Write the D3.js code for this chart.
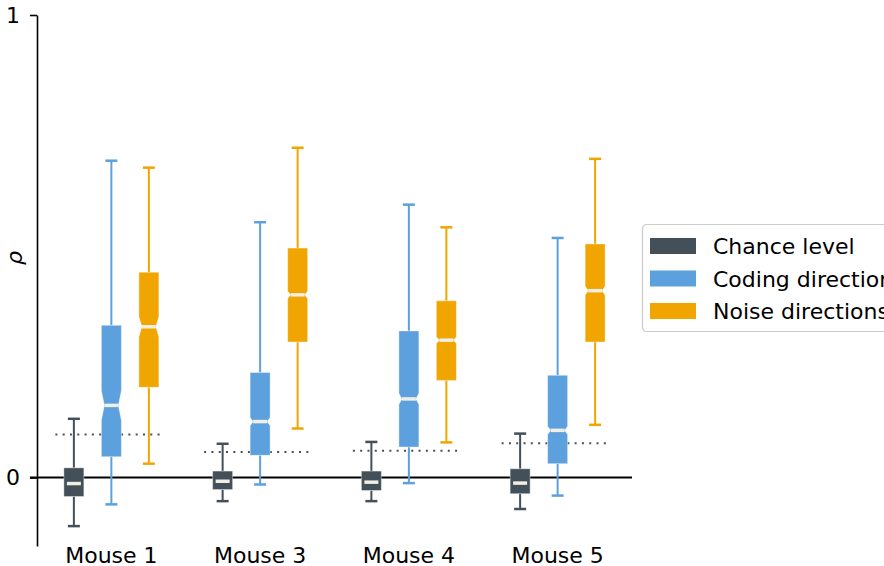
<!DOCTYPE html>
<html>
<head>
<meta charset="utf-8">
<script src="https://cdn.jsdelivr.net/npm/d3@7"></script>
<style>
    html, body { margin: 0; padding: 0; background: #fff; }
    svg { display: block; font-family: 'DejaVu Sans', sans-serif; }
</style>
</head>
<body>
<svg id="chart" width="884" height="566"></svg>
<script>
// categories and series
var mice = ['Mouse 1', 'Mouse 3', 'Mouse 4', 'Mouse 5'];
var seriesNames = ['Chance level', 'Coding direction', 'Noise directions'];
var seriesColors = ['#434f59', '#5ca0dd', '#f0a500'];

// box stats per mouse: [whisker low, q1, median, q3, whisker high]
var chanceStats = [
    [-0.105, -0.041, -0.013, 0.021, 0.127],
    [-0.051, -0.026, -0.008, 0.014, 0.073],
    [-0.051, -0.028, -0.010, 0.014, 0.077],
    [-0.068, -0.035, -0.012, 0.019, 0.095]
];
var codingStats = [
    [-0.058, 0.045, 0.156, 0.329, 0.685],
    [-0.015, 0.048, 0.121, 0.227, 0.552],
    [-0.012, 0.066, 0.170, 0.317, 0.590],
    [-0.039, 0.030, 0.102, 0.221, 0.518]
];
var noiseStats = [
    [0.030, 0.195, 0.326, 0.444, 0.670],
    [0.106, 0.293, 0.395, 0.496, 0.713],
    [0.076, 0.210, 0.297, 0.382, 0.541],
    [0.114, 0.293, 0.404, 0.505, 0.689]
];
// notch half heights (confidence interval of median)
var chanceNotch = [0, 0, 0, 0];
var codingNotch = [0.032, 0.009, 0.012, 0.009];
var noiseNotch = [0.022, 0.008, 0.007, 0.010];
// dotted threshold per mouse
var thresholds = [0.093, 0.055, 0.058, 0.074];
var yTicks = [0, 1];

var allStats = [chanceStats, codingStats, noiseStats];
var allNotch = [chanceNotch, codingNotch, noiseNotch];

var svg = d3.select('#chart');

var y = d3.scaleLinear()
    .domain([-0.148, 1])
    .range([546, 15]);

var x = d3.scaleBand()
    .domain(mice)
    .range([37, 632]);

var xs = d3.scaleBand()
    .domain(seriesNames)
    .range([-56.25, 56.25]);

var boxW = 20;
var indent = 3;

// zero line
svg.append('line')
    .attr('x1', 30)
    .attr('x2', 632)
    .attr('y1', y(0))
    .attr('y2', y(0))
    .attr('stroke', '#000')
    .attr('stroke-width', 2);

// y axis
var yAxis = svg.append('g')
    .attr('transform', 'translate(37,0)')
    .call(d3.axisLeft(y).tickValues(yTicks).tickSize(7).tickSizeOuter(0)
        .tickPadding(10).tickFormat(d3.format('d')));
yAxis.select('.domain').attr('stroke', '#000').attr('stroke-width', 1.6);
yAxis.selectAll('.tick line').attr('stroke', '#000').attr('stroke-width', 1.6);
yAxis.selectAll('.tick text')
    .attr('font-size', 22)
    .attr('font-family', 'DejaVu Sans')
    .attr('fill', '#000');

svg.append('text')
    .attr('transform', 'translate(22,258) rotate(-90)')
    .attr('text-anchor', 'middle')
    .attr('font-size', 22)
    .attr('font-style', 'italic')
    .text('ρ');

// x labels
svg.selectAll('.xlabel')
    .data(mice)
    .enter()
    .append('text')
    .attr('class', 'xlabel')
    .attr('x', function (d) { return x(d) + x.bandwidth() / 2; })
    .attr('y', 563)
    .attr('text-anchor', 'middle')
    .attr('font-size', 22)
    .text(function (d) { return d; });

// threshold dotted lines
svg.selectAll('.thr')
    .data(thresholds)
    .enter()
    .append('line')
    .attr('class', 'thr')
    .attr('x1', function (d, i) { return x(mice[i]) + x.bandwidth() / 2 - 56; })
    .attr('x2', function (d, i) { return x(mice[i]) + x.bandwidth() / 2 + 52; })
    .attr('y1', function (d) { return y(d); })
    .attr('y2', function (d) { return y(d); })
    .attr('stroke', '#4a4f55')
    .attr('stroke-width', 2)
    .attr('stroke-dasharray', '2,5.3');

function notchPath(cx, s, n) {
    var x0 = cx - boxW / 2;
    var x1 = cx + boxW / 2;
    var q1 = y(s[1]);
    var q3 = y(s[3]);
    var md = y(s[2]);
    if (!n) {
        return 'M' + x0 + ',' + q3 + 'H' + x1 + 'V' + q1 + 'H' + x0 + 'Z';
    }
    var nt = y(s[2] + n);
    var nb = y(s[2] - n);
    return 'M' + x0 + ',' + q3 + 'H' + x1 + 'V' + nt +
        'L' + (x1 - indent) + ',' + md + 'L' + x1 + ',' + nb +
        'V' + q1 + 'H' + x0 + 'V' + nb +
        'L' + (x0 + indent) + ',' + md + 'L' + x0 + ',' + nt + 'Z';
}

seriesNames.forEach(function (name, si) {
    var color = seriesColors[si];
    var g = svg.append('g').attr('class', 'series');
    var items = allStats[si].map(function (s, i) {
        return { mouse: mice[i], s: s, n: allNotch[si][i] };
    });
    var grp = g.selectAll('g')
        .data(items)
        .enter()
        .append('g')
        .attr('transform', function (d) {
            var cx = x(d.mouse) + x.bandwidth() / 2 + xs(name) + xs.bandwidth() / 2;
            return 'translate(' + cx + ',0)';
        });

    // whiskers
    grp.append('line')
        .attr('x1', 0).attr('x2', 0)
        .attr('y1', function (d) { return y(d.s[3]); })
        .attr('y2', function (d) { return y(d.s[4]); })
        .attr('stroke', color).attr('stroke-width', 2);
    grp.append('line')
        .attr('x1', 0).attr('x2', 0)
        .attr('y1', function (d) { return y(d.s[1]); })
        .attr('y2', function (d) { return y(d.s[0]); })
        .attr('stroke', color).attr('stroke-width', 2);
    // caps
    [0, 4].forEach(function (k) {
        grp.append('line')
            .attr('x1', -6).attr('x2', 6)
            .attr('y1', function (d) { return y(d.s[k]); })
            .attr('y2', function (d) { return y(d.s[k]); })
            .attr('stroke', color).attr('stroke-width', 2.5);
    });

    // box
    grp.append('path')
        .attr('d', function (d) { return notchPath(0, d.s, d.n); })
        .attr('fill', color)
        .attr('stroke', '#ffffff')
        .attr('stroke-opacity', 0.4)
        .attr('stroke-width', 1);

    // median
    grp.append('line')
        .attr('x1', -boxW / 2 + indent)
        .attr('x2', boxW / 2 - indent)
        .attr('y1', function (d) { return y(d.s[2]); })
        .attr('y2', function (d) { return y(d.s[2]); })
        .attr('stroke', '#f1efe3')
        .attr('stroke-width', 3.5);
});

// legend
var legend = svg.append('g').attr('transform', 'translate(642,224)');
legend.append('rect')
    .attr('x', 0.5).attr('y', 0.5)
    .attr('width', 280).attr('height', 107)
    .attr('rx', 4)
    .attr('fill', '#fff')
    .attr('stroke', '#cccccc')
    .attr('stroke-width', 1.2);
var li = legend.selectAll('.li')
    .data(seriesNames)
    .enter()
    .append('g')
    .attr('class', 'li')
    .attr('transform', function (d, i) { return 'translate(0,' + (22 + i * 32.5) + ')'; });
li.append('rect')
    .attr('x', 8).attr('y', -8)
    .attr('width', 46).attr('height', 16)
    .attr('fill', function (d, i) { return seriesColors[i]; });
li.append('text')
    .attr('x', 71).attr('y', 8)
    .attr('font-size', 22)
    .text(function (d) { return d; });
</script>
</body>
</html>
